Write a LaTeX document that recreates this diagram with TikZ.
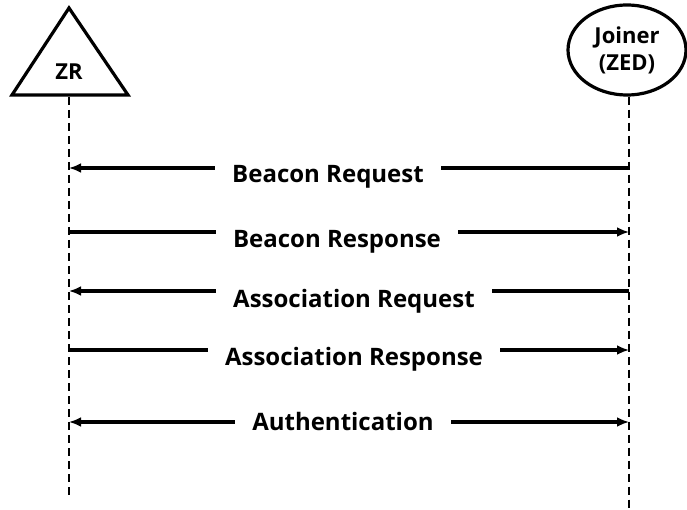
\documentclass[tikz,border=0pt]{standalone}
\usepackage{fontspec}
\setmainfont{Open Sans}
\usetikzlibrary{arrows.meta,shapes.geometric}
\begin{document}
\begin{tikzpicture}[x=1pt,y=-1pt,
  lbl/.style={font=\bfseries\fontsize{24}{28}\selectfont, fill=white, inner xsep=17pt, inner ysep=2pt, anchor=base},
  msg/.style={line width=3.2pt, -{Latex[length=12pt,width=10pt]}},
  bothmsg/.style={line width=3.2pt, {Latex[length=12pt,width=10pt]}-{Latex[length=12pt,width=10pt]}},
  life/.style={line width=2pt, dash pattern=on 8pt off 5pt},
  actor/.style={line width=3.2pt}]
\useasboundingbox (0,0) rectangle (687,510);
% ZR router: triangle
\draw[actor, line join=miter] (69,8) -- (128,95) -- (12,95) -- cycle;
\node[font=\bfseries\fontsize{22}{26}\selectfont] (zr) at (69,72) {ZR};
\coordinate (zrtop) at (69,97);
\coordinate (zrend) at (69,496);
% Joiner: ellipse
\node[actor, draw, ellipse, minimum width=118pt, minimum height=90pt, inner sep=0pt,
      align=center, font=\bfseries\fontsize{22}{27}\selectfont] (jn) at (627,50) {Joiner\\(ZED)};
\coordinate (jnend) at (629,510);
% lifelines
\draw[life] (zrtop) -- (zrend);
\draw[life] (jn.south -| jnend) -- (jnend);
% message anchors on the lifelines
\foreach \n/\y in {1/168,2/232,3/291,4/350,5/422} {
  \coordinate (z\n) at (69,\y);
  \coordinate (j\n) at (629,\y);
}
% messages
\draw[msg] (j1) -- (z1);
\draw[msg] (z2) -- (j2);
\draw[msg] (j3) -- (z3);
\draw[msg] (z4) -- (j4);
\draw[bothmsg] (z5) -- (j5);
% labels
\node[lbl] (l1) at (328,183) {Beacon Request};
\node[lbl] (l2) at (337,248) {Beacon Response};
\node[lbl] (l3) at (354,307) {Association Request};
\node[lbl] (l4) at (354,365) {Association Response};
\node[lbl] (l5) at (343,430) {Authentication};
\end{tikzpicture}
\end{document}
